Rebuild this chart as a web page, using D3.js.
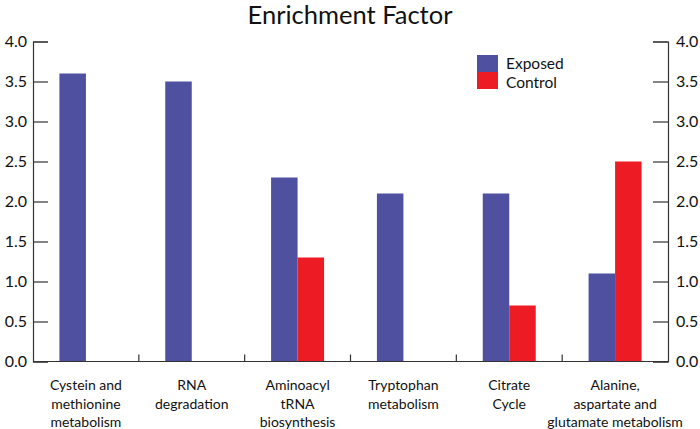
<!DOCTYPE html>
<html>
<head>
<meta charset="utf-8">
<script src="https://cdn.jsdelivr.net/npm/d3@7"></script>
<style>
  body { margin: 0; background: #fff; }
  text { font-family: Lato, "Open Sans", sans-serif; fill: #111; }
</style>
</head>
<body>
<script>
var w = 700;
var h = 429;

var categories = [
  ["Cystein and", "methionine", "metabolism"],
  ["RNA", "degradation"],
  ["Aminoacyl", "tRNA", "biosynthesis"],
  ["Tryptophan", "metabolism"],
  ["Citrate", "Cycle"],
  ["Alanine,", "aspartate and", "glutamate metabolism"]
];
var series = ["Exposed", "Control"];
var exposed = [3.6, 3.5, 2.3, 2.1, 2.1, 1.1];
var control = [0, 0, 1.3, 0, 0.7, 2.5];
var yTicks = [0, 0.5, 1, 1.5, 2, 2.5, 3, 3.5, 4];
var colors = ["#5050a0", "#ed1c24"];

var margin = { top: 41.5, bottom: 67.5, left: 33, right: 32 };
var width = w - margin.left - margin.right;
var height = h - margin.top - margin.bottom;

var svg = d3.select("body").append("svg")
  .attr("width", w)
  .attr("height", h);

var x0 = d3.scaleBand()
  .domain(d3.range(categories.length))
  .range([0, width]);

var x1 = d3.scaleBand()
  .domain(series)
  .range([x0.bandwidth() / 2 - 26.5, x0.bandwidth() / 2 + 26.5]);

var y = d3.scaleLinear()
  .domain([0, 4])
  .range([height, 0]);

var chart = svg.append("g")
  .attr("transform", "translate(" + margin.left + "," + margin.top + ")");

var rows = categories.map(function (c, i) {
  return [{ s: "Exposed", v: exposed[i] }, { s: "Control", v: control[i] }];
});

chart.selectAll(".grp")
  .data(rows)
  .enter()
  .append("g")
  .attr("transform", function (d, i) { return "translate(" + x0(i) + ",0)"; })
  .selectAll("rect")
  .data(function (d) { return d.filter(function (e) { return e.v > 0; }); })
  .enter()
  .append("rect")
  .attr("x", function (d) { return x1(d.s); })
  .attr("y", function (d) { return y(d.v); })
  .attr("width", x1.bandwidth())
  .attr("height", function (d) { return height - y(d.v); })
  .attr("fill", function (d) { return d.s == "Exposed" ? colors[0] : colors[1]; });

// axes
var left = chart.append("g")
  .call(d3.axisRight(y).tickValues(yTicks).tickSize(15).tickFormat(""));
var right = chart.append("g")
  .attr("transform", "translate(" + width + ",0)")
  .call(d3.axisLeft(y).tickValues(yTicks).tickSize(15).tickFormat(""));
[left, right].forEach(function (a) {
  a.select(".domain").attr("stroke", "#333").attr("stroke-width", 1.2);
  a.selectAll(".tick line").attr("stroke", "#333").attr("stroke-width", 1.2);
});

// tick labels
chart.selectAll(".ylab")
  .data(yTicks)
  .enter()
  .append("text")
  .attr("x", -6)
  .attr("y", function (d) { return y(d) + 5.5; })
  .attr("text-anchor", "end")
  .attr("font-size", 16)
  .text(function (d) { return d.toFixed(1); });

chart.selectAll(".ylabr")
  .data(yTicks)
  .enter()
  .append("text")
  .attr("x", width + 8)
  .attr("y", function (d) { return y(d) + 5.5; })
  .attr("font-size", 16)
  .text(function (d) { return d.toFixed(1); });

// baseline and dividers
chart.append("line")
  .attr("x1", 0).attr("x2", width)
  .attr("y1", height).attr("y2", height)
  .attr("stroke", "#333").attr("stroke-width", 1.2);

chart.selectAll(".div")
  .data(d3.range(1, categories.length))
  .enter()
  .append("line")
  .attr("x1", function (d) { return x0(d); })
  .attr("x2", function (d) { return x0(d); })
  .attr("y1", height).attr("y2", height - 7)
  .attr("stroke", "#333").attr("stroke-width", 1.2);

// category labels
chart.selectAll(".cat")
  .data(categories)
  .enter()
  .append("text")
  .attr("text-anchor", "middle")
  .attr("font-size", 14)
  .attr("transform", function (d, i) {
    return "translate(" + (x0(i) + x0.bandwidth() / 2) + "," + (height + 28.5) + ")";
  })
  .selectAll("tspan")
  .data(function (d) { return d; })
  .enter()
  .append("tspan")
  .attr("x", 0)
  .attr("dy", function (d, i) { return i == 0 ? 0 : 18.5; })
  .text(function (d) { return d; });

// title
svg.append("text")
  .attr("x", 350)
  .attr("y", 24)
  .attr("text-anchor", "middle")
  .attr("font-size", 25.5)
  .text("Enrichment Factor");

// legend
var legend = svg.append("g").attr("transform", "translate(477,55)");
series.forEach(function (s, i) {
  legend.append("rect")
    .attr("x", 0).attr("y", i * 17)
    .attr("width", 21).attr("height", 17)
    .attr("fill", colors[i]);
  legend.append("text")
    .attr("x", 29).attr("y", i * 19 + 14)
    .attr("font-size", 15.5)
    .text(s);
});
</script>
</body>
</html>
